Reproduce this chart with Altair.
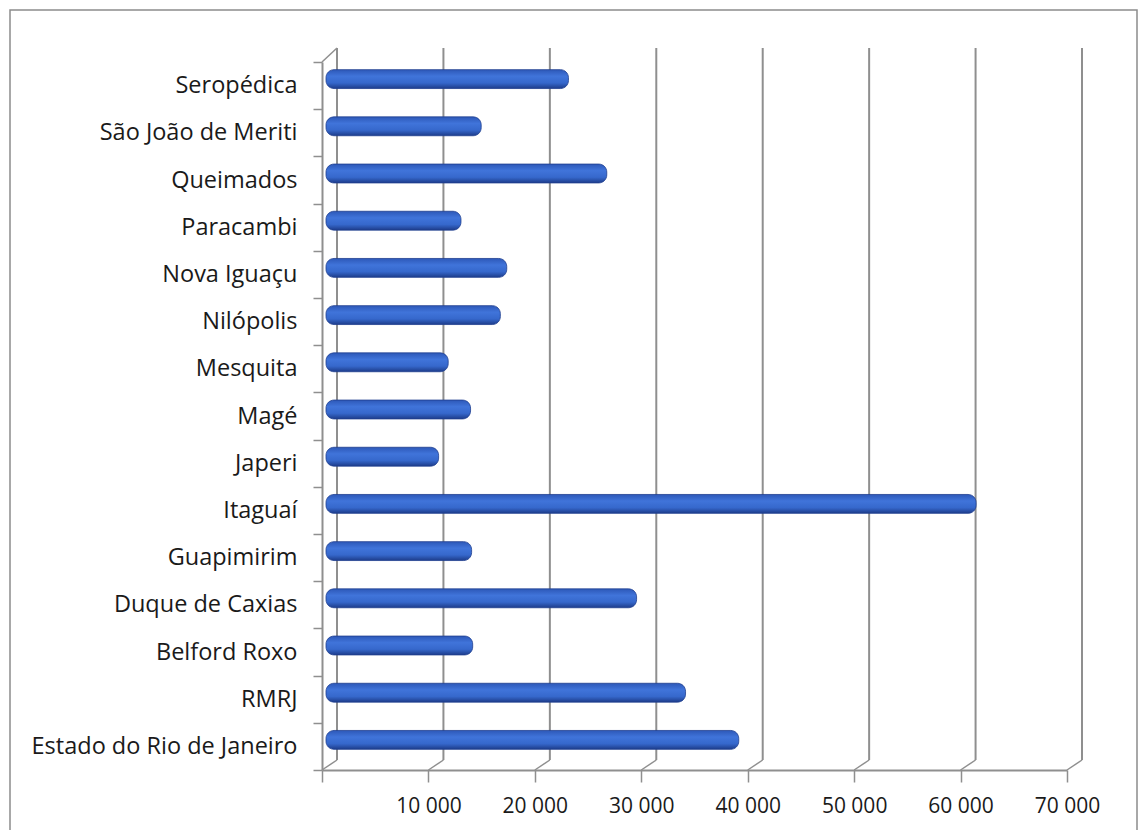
import altair as alt
import pandas as pd

categories = ["Seropédica", "São João de Meriti", "Queimados", "Paracambi", "Nova Iguaçu",
              "Nilópolis", "Mesquita", "Magé", "Japeri", "Itaguaí", "Guapimirim",
              "Duque de Caxias", "Belford Roxo", "RMRJ", "Estado do Rio de Janeiro"]
values = [22500, 14300, 26100, 12400, 16700, 16100, 11200, 13300, 10300, 60800,
          13400, 28900, 13500, 33500, 38500]
grid_ticks = [0, 10000, 20000, 30000, 40000, 50000, 60000, 70000]

W, H = 745, 708
DEPTH_X = 15
PX = 70000 / W  # data units per pixel
START_SHIFT = 4 * PX
END_SHIFT = 7 * PX

df = pd.DataFrame({"cat": categories, "val": values})
gdf = pd.DataFrame({"t": grid_ticks})

xscale = alt.Scale(domain=[0, 70000], nice=False, zero=True)
yscale = alt.Scale(domain=categories, paddingInner=0, paddingOuter=0)

border = alt.Chart(pd.DataFrame({"a": [0]})).mark_rect(
    fill=None, stroke="#8c8c8c", strokeWidth=1.5
).encode(x=alt.value(-312), x2=alt.value(815), y=alt.value(-52), y2=alt.value(800))

back_grid = alt.Chart(gdf).mark_rule(
    color="#8f8f8f", strokeWidth=2, xOffset=DEPTH_X
).encode(
    x=alt.X("t:Q", scale=xscale),
    y=alt.value(-14), y2=alt.value(H - 10)
)

floor_diag = alt.Chart(gdf).mark_rule(
    color="#8f8f8f", strokeWidth=1.5, x2Offset=DEPTH_X
).encode(
    x=alt.X("t:Q", scale=xscale), x2="t:Q",
    y=alt.value(H), y2=alt.value(H - 10)
)

top_diag = alt.Chart(pd.DataFrame({"a": [0]})).mark_rule(
    color="#8f8f8f", strokeWidth=1.5
).encode(x=alt.value(0), x2=alt.value(DEPTH_X), y=alt.value(0), y2=alt.value(-14))

bars = alt.Chart(df).transform_calculate(
    x0=f"{START_SHIFT}", x1=f"datum.val + {END_SHIFT}"
).mark_bar(
    yOffset=-6.5, y2Offset=-6.5,
    height=alt.RelativeBandSize(0.4),
    cornerRadius=8,
    color=alt.Gradient(
        gradient="linear",
        stops=[alt.GradientStop(color="#2d58b8", offset=0),
               alt.GradientStop(color="#4074da", offset=0.35),
               alt.GradientStop(color="#3668cc", offset=0.7),
               alt.GradientStop(color="#1d3c8a", offset=1)],
        x1=0, x2=0, y1=0, y2=1
    ),
    stroke="#1f3f8f", strokeWidth=0.8
).encode(
    x=alt.X("x0:Q", scale=xscale, title=None,
            axis=alt.Axis(values=grid_ticks, grid=False, domainColor="#8f8f8f", domainWidth=2,
                          tickColor="#8f8f8f", tickWidth=1.5, tickSize=12, labelPadding=13,
                          labelFlush=False, labelOverlap=False,
                          labelFontSize=21, labelFont="Open Sans", labelColor="#1a1a1a",
                          labelExpr="datum.value == 0 ? '' : replace(format(datum.value, ','), ',', ' ')")),
    x2="x1:Q",
    y=alt.Y("cat:N", scale=yscale, sort=categories, title=None,
            axis=alt.Axis(tickBand="extent", domainColor="#8f8f8f", domainWidth=2,
                          tickColor="#8f8f8f", tickWidth=1.5, tickSize=9, labelPadding=16,
                          labelFontSize=23.5, labelFont="Open Sans", labelColor="#1a1a1a", labelLimit=400))
)

chart = alt.layer(border, back_grid, floor_diag, top_diag, bars).properties(
    width=W, height=H,
    padding={"left": 314, "top": 54, "right": 73, "bottom": 60},
    autosize=alt.AutoSizeParams(type="none")
).configure(background="white", view=alt.ViewConfig(stroke=None))

chart.save("out.html", embed_options={"renderer": "svg", "actions": False})
